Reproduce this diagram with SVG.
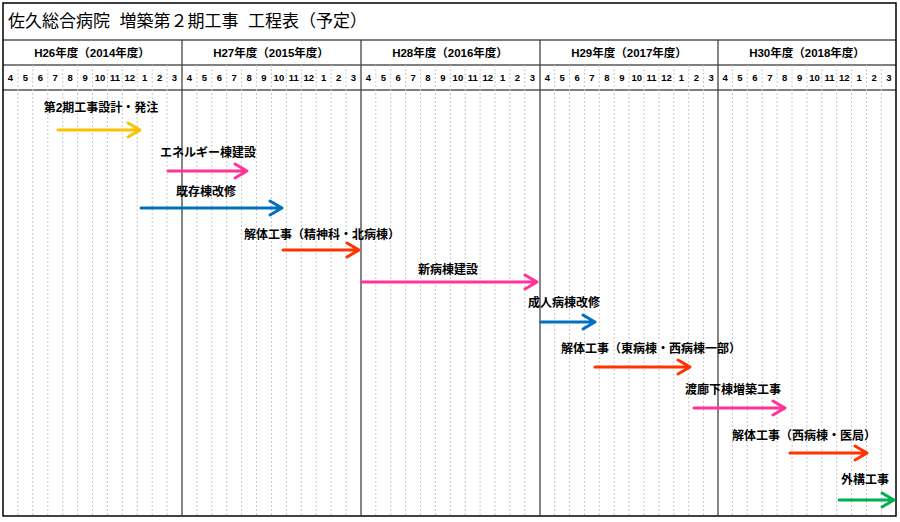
<svg xmlns="http://www.w3.org/2000/svg" width="900" height="522" viewBox="0 0 900 522">
<style>
.t{font-family:"Liberation Sans","Noto Sans CJK JP",sans-serif;fill:#000}
.yr{font-size:11.5px;font-weight:bold;text-anchor:middle}
.mo{font-size:9.5px;font-weight:bold;text-anchor:middle}
.lb{font-size:12px;font-weight:bold;text-anchor:middle}
.grid{stroke:#c8c8c8;stroke-width:1;stroke-dasharray:2,2}
.ar{fill:none;stroke-width:3;stroke-linecap:round;stroke-linejoin:round}
</style>
<rect width="900" height="522" fill="#fff"/>
<g id="table" fill="none" stroke="#000">
<rect x="3" y="3" width="893" height="513" stroke-width="1.5"/>
<line x1="3" y1="40" x2="896" y2="40"/>
<line x1="3" y1="65" x2="896" y2="65"/>
<line x1="3" y1="90" x2="896" y2="90"/>
</g>
<g id="monthlines" class="grid">
<path d="M17.9 65V516M32.8 65V516M47.8 65V516M62.7 65V516M77.6 65V516M92.5 65V516M107.4 65V516M122.3 65V516M137.2 65V516M152.2 65V516M167.1 65V516
M196.9 65V516M211.8 65V516M226.7 65V516M241.6 65V516M256.5 65V516M271.5 65V516M286.4 65V516M301.3 65V516M316.2 65V516M331.1 65V516M346 65V516
M375.8 65V516M390.7 65V516M405.6 65V516M420.5 65V516M435.4 65V516M450.3 65V516M465.2 65V516M480.1 65V516M495 65V516M509.9 65V516M524.8 65V516
M554.6 65V516M569.5 65V516M584.4 65V516M599.3 65V516M614.2 65V516M629.1 65V516M644 65V516M658.9 65V516M673.8 65V516M688.7 65V516M703.6 65V516
M732.4 65V516M747.3 65V516M762.2 65V516M777.1 65V516M792 65V516M806.9 65V516M821.8 65V516M836.7 65V516M851.6 65V516M866.5 65V516M881.4 65V516"/>
</g>
<g id="yearlines" stroke="#444" stroke-width="1.3">
<line x1="182" y1="40" x2="182" y2="516"/>
<line x1="361" y1="40" x2="361" y2="516"/>
<line x1="540" y1="40" x2="540" y2="516"/>
<line x1="718" y1="40" x2="718" y2="516"/>
</g>
<g id="title"><text class="t" x="8" y="27" font-size="17">佐久総合病院&#160;&#160;増築第２期工事&#160;&#160;工程表（予定）</text></g>
<g id="years" class="t yr">
<text x="92" y="57">H26年度（2014年度）</text>
<text x="271" y="57">H27年度（2015年度）</text>
<text x="450" y="57">H28年度（2016年度）</text>
<text x="629" y="57">H29年度（2017年度）</text>
<text x="807" y="57">H30年度（2018年度）</text>
</g>
<g id="months" class="t mo">
<text x="10.5" y="81">4</text><text x="25.4" y="81">5</text><text x="40.3" y="81">6</text><text x="55.2" y="81">7</text><text x="70.2" y="81">8</text><text x="85.1" y="81">9</text><text x="100" y="81">10</text><text x="114.9" y="81">11</text><text x="129.8" y="81">12</text><text x="144.7" y="81">1</text><text x="159.6" y="81">2</text><text x="174.5" y="81">3</text>
<text x="189.5" y="81">4</text><text x="204.4" y="81">5</text><text x="219.3" y="81">6</text><text x="234.2" y="81">7</text><text x="249.1" y="81">8</text><text x="264" y="81">9</text><text x="278.9" y="81">10</text><text x="293.8" y="81">11</text><text x="308.7" y="81">12</text><text x="323.7" y="81">1</text><text x="338.6" y="81">2</text><text x="353.5" y="81">3</text>
<text x="368.4" y="81">4</text><text x="383.3" y="81">5</text><text x="398.2" y="81">6</text><text x="413.1" y="81">7</text><text x="428" y="81">8</text><text x="443" y="81">9</text><text x="457.9" y="81">10</text><text x="472.8" y="81">11</text><text x="487.7" y="81">12</text><text x="502.6" y="81">1</text><text x="517.5" y="81">2</text><text x="532.4" y="81">3</text>
<text x="547.3" y="81">4</text><text x="562.2" y="81">5</text><text x="577.1" y="81">6</text><text x="592" y="81">7</text><text x="606.9" y="81">8</text><text x="621.8" y="81">9</text><text x="636.7" y="81">10</text><text x="651.6" y="81">11</text><text x="666.5" y="81">12</text><text x="681.4" y="81">1</text><text x="696.3" y="81">2</text><text x="711.2" y="81">3</text>
<text x="725.1" y="81">4</text><text x="740" y="81">5</text><text x="754.9" y="81">6</text><text x="769.8" y="81">7</text><text x="784.7" y="81">8</text><text x="799.6" y="81">9</text><text x="814.5" y="81">10</text><text x="829.4" y="81">11</text><text x="844.3" y="81">12</text><text x="859.2" y="81">1</text><text x="874.1" y="81">2</text><text x="889" y="81">3</text>
</g>
<g id="connectors">
<g class="ar" stroke="#FFC000"><path d="M58 130H140M128 123L140 130L128 137"/></g>
<g class="ar" stroke="#FF3399"><path d="M168 171H247M235 164L247 171L235 178"/></g>
<g class="ar" stroke="#0070C0"><path d="M141 208H282M270 201L282 208L270 215"/></g>
<g class="ar" stroke="#FF3300"><path d="M283 250H359M347 243L359 250L347 257"/></g>
<g class="ar" stroke="#FF3399"><path d="M362 282H537M525 275L537 282L525 289"/></g>
<g class="ar" stroke="#0070C0"><path d="M541 322H595M583 315L595 322L583 329"/></g>
<g class="ar" stroke="#FF3300"><path d="M595 367H690M678 360L690 367L678 374"/></g>
<g class="ar" stroke="#FF3399"><path d="M694 408H785M773 401L785 408L773 415"/></g>
<g class="ar" stroke="#FF3300"><path d="M790 453H867M855 446L867 453L855 460"/></g>
<g class="ar" stroke="#00B050"><path d="M839 500H894M882 493L894 500L882 507"/></g>
</g>
<g id="n1"><text class="t lb" x="101" y="112">第2期工事設計・発注</text></g>
<g id="n2"><text class="t lb" x="208" y="157">エネルギー棟建設</text></g>
<g id="n3"><text class="t lb" x="206" y="196">既存棟改修</text></g>
<g id="n4"><text class="t lb" x="322" y="239">解体工事（精神科・北病棟）</text></g>
<g id="n5"><text class="t lb" x="448" y="274">新病棟建設</text></g>
<g id="n6"><text class="t lb" x="564" y="307">成人病棟改修</text></g>
<g id="n7"><text class="t lb" x="651" y="353">解体工事（東病棟・西病棟一部）</text></g>
<g id="n8"><text class="t lb" x="733" y="394">渡廊下棟増築工事</text></g>
<g id="n9"><text class="t lb" x="804" y="440">解体工事（西病棟・医局）</text></g>
<g id="n10"><text class="t lb" x="865" y="484">外構工事</text></g>
</svg>
